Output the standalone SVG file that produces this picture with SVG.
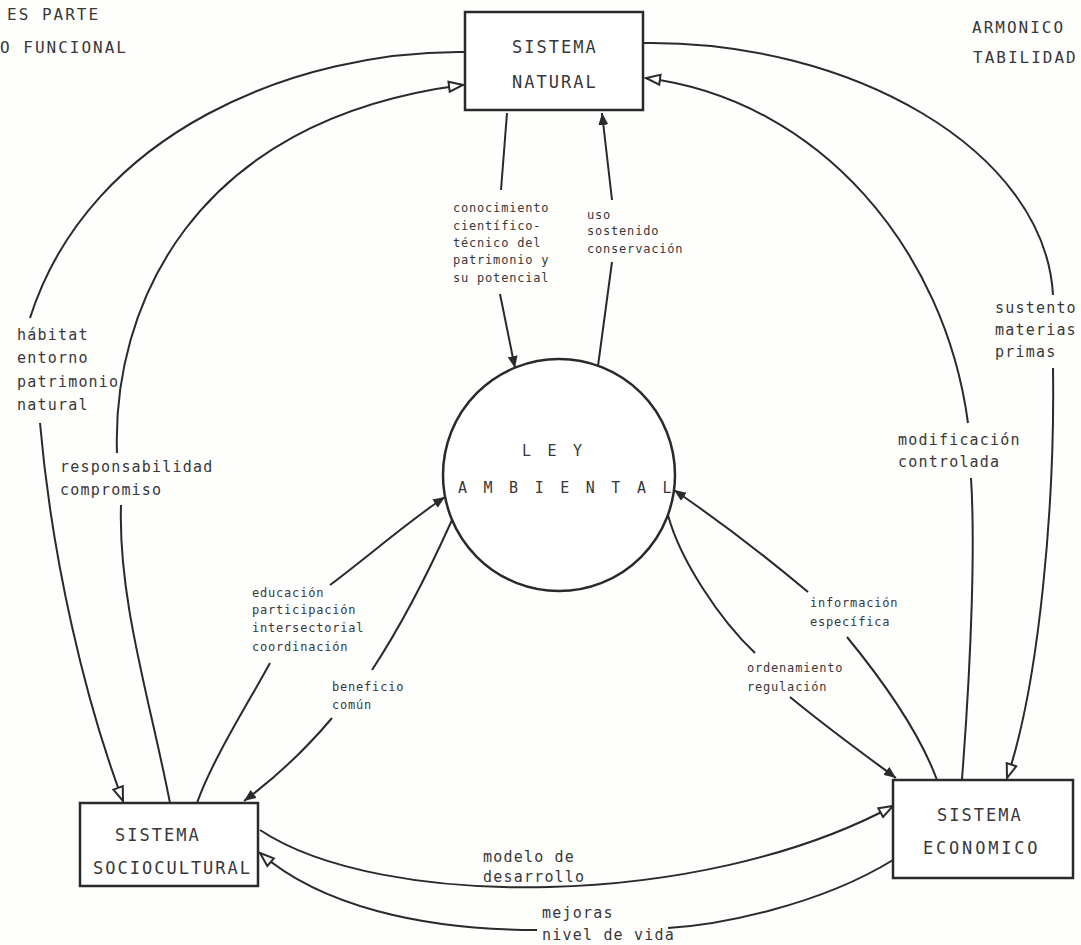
<svg xmlns="http://www.w3.org/2000/svg" width="1081" height="945" viewBox="0 0 1081 945">
<style>
text{font-family:"DejaVu Sans Mono","Liberation Mono",monospace;fill:#383838}
.box{fill:#fff;stroke:#2a2a2a;stroke-width:2.5}
.bt{font-size:17px;letter-spacing:2px}
.lb{font-size:15px;letter-spacing:1.2px}
.sm{font-size:12px;letter-spacing:0.8px}
.cn{font-size:16px;letter-spacing:2px}
.ly{font-size:15px;letter-spacing:3.75px}
.ln{fill:none;stroke:#2a2a2a;stroke-width:2}
.o{marker-end:url(#open)}
.f{marker-end:url(#filled)}
</style>
<defs>
<marker id="filled" viewBox="0 0 12 10" refX="12" refY="5" markerWidth="12" markerHeight="10" orient="auto" markerUnits="userSpaceOnUse"><path d="M0,0 L12,5 L0,10 z" fill="#2a2a2a"/></marker>
<marker id="open" viewBox="-2 -2 18 14" refX="14" refY="5" markerWidth="18" markerHeight="14" orient="auto" markerUnits="userSpaceOnUse"><path d="M0,0 L14,5 L0,10 z" fill="#fff" stroke="#2a2a2a" stroke-width="2"/></marker>
</defs>
<rect width="1081" height="945" fill="#fefefd"/>
<g id="margin-notes">
<text class="cn" x="7" y="20">ES PARTE</text>
<text class="cn" x="0" y="53">O FUNCIONAL</text>
<text class="cn" x="972" y="33">ARMONICO</text>
<text class="cn" x="973" y="63">TABILIDAD</text>
</g>
<g id="connectors">
<g id="c-natural-socio"><path class="ln o" d="M465,52 C300,50 90,130 30,318 M40,423 C52,560 85,700 123,801"/>
<text class="lb" x="17" y="340">hábitat</text><text class="lb" x="17" y="363">entorno</text><text class="lb" x="17" y="387">patrimonio</text><text class="lb" x="17" y="410">natural</text></g>
<g id="c-socio-natural"><path class="ln o" d="M170,803 C150,700 118,600 121,505 M117,453 C112,310 190,120 463,85"/>
<text class="lb" x="60" y="472">responsabilidad</text><text class="lb" x="60" y="495">compromiso</text></g>
<g id="c-natural-ley"><path class="ln f" d="M507,113 L501,190 M500,294 L515,368"/>
<text class="sm" x="453" y="212">conocimiento</text><text class="sm" x="453" y="230">científico-</text><text class="sm" x="453" y="247">técnico del</text><text class="sm" x="453" y="264">patrimonio y</text><text class="sm" x="453" y="282">su potencial</text></g>
<g id="c-ley-natural"><path class="ln f" d="M598,366 L612,262 M612,200 L602,113"/>
<text class="sm" x="587" y="219">uso</text><text class="sm" x="587" y="235">sostenido</text><text class="sm" x="587" y="253">conservación</text></g>
<g id="c-natural-econ"><path class="ln o" d="M643,43 C850,40 1045,150 1053,295 M1053,368 C1055,500 1040,680 1007,778"/>
<text class="lb" x="995" y="313">sustento</text><text class="lb" x="995" y="335">materias</text><text class="lb" x="995" y="357">primas</text></g>
<g id="c-econ-natural"><path class="ln o" d="M962,779 C972,650 975,540 971,478 M968,423 C945,250 820,100 646,78"/>
<text class="lb" x="898" y="445">modificación</text><text class="lb" x="898" y="467">controlada</text></g>
<g id="c-socio-ley"><path class="ln f" d="M197,803 C212,760 250,700 270,663 M330,585 C370,555 410,520 445,497"/>
<text class="sm" x="252" y="597">educación</text><text class="sm" x="252" y="614">participación</text><text class="sm" x="252" y="632">intersectorial</text><text class="sm" x="252" y="651">coordinación</text></g>
<g id="c-ley-socio"><path class="ln f" d="M452,520 C425,580 395,635 372,670 M332,718 C305,750 275,778 244,801"/>
<text class="sm" x="332" y="691">beneficio</text><text class="sm" x="332" y="709">común</text></g>
<g id="c-ley-econ"><path class="ln f" d="M668,515 C680,560 720,620 755,653 M790,697 C830,730 865,755 896,778"/>
<text class="sm" x="747" y="672">ordenamiento</text><text class="sm" x="747" y="691">regulación</text></g>
<g id="c-econ-ley"><path class="ln f" d="M937,780 Q915,720 847,637 M808,592 Q740,535 674,490"/>
<text class="sm" x="810" y="607">información</text><text class="sm" x="810" y="626">específica</text></g>
<g id="c-socio-econ"><path class="ln o" d="M260,830 C380,910 700,910 893,806"/>
<text class="lb" x="483" y="862">modelo de</text><text class="lb" x="483" y="882">desarrollo</text></g>
<g id="c-econ-socio"><path class="ln o" d="M893,860 C820,905 720,925 668,928 M537,930 C420,930 320,905 260,853"/>
<text class="lb" x="542" y="918">mejoras</text><text class="lb" x="542" y="940">nivel de vida</text></g>
</g>
<g id="sistema-natural"><rect class="box" x="465" y="12" width="178" height="98"/>
<text class="bt" x="512" y="53">SISTEMA</text><text class="bt" x="512" y="88">NATURAL</text></g>
<g id="sistema-sociocultural"><rect class="box" x="80" y="803" width="178" height="83"/>
<text class="bt" x="115" y="841">SISTEMA</text><text class="bt" x="93" y="874">SOCIOCULTURAL</text></g>
<g id="sistema-economico"><rect class="box" x="893" y="780" width="180" height="98"/>
<text class="bt" x="937" y="821">SISTEMA</text><text class="bt" x="923" y="854" style="letter-spacing:2.8px">ECONOMICO</text></g>
<g id="ley-ambiental"><circle cx="559" cy="475" r="116" fill="#fff" stroke="#2a2a2a" stroke-width="2.5"/>
<text class="ly" x="522" y="456">L E Y</text><text class="ly" x="458" y="493">A M B I E N T A L</text></g>
</svg>
